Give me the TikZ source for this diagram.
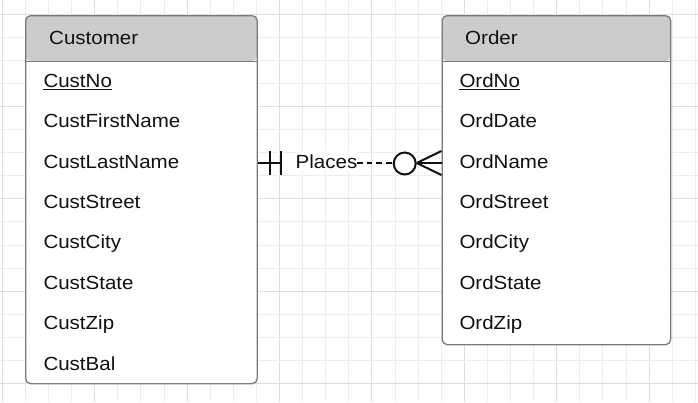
\documentclass[tikz,border=0pt]{standalone}
\usepackage{fontspec}
\setmainfont{Liberation Sans}[FakeStretch=1.08]
\definecolor{gridminor}{HTML}{EDEDED}
\definecolor{gridmajor}{HTML}{DEDEDE}
\definecolor{hdrgray}{HTML}{CCCCCC}
\definecolor{bordergray}{HTML}{7A7A7A}
\definecolor{ink}{HTML}{111111}
\tikzset{
  entity/.style={draw=bordergray, line width=1.3pt, fill=white, rounded corners=5pt,
    inner sep=0pt, anchor=north west},
  attr/.style={anchor=base west, inner sep=0pt, text=ink,
    font=\fontsize{19}{22}\selectfont},
  rel/.style={draw=ink, line width=2pt},
  reldash/.style={rel, dash pattern=on 5.7pt off 3.9pt},
  keyline/.style={draw=ink, line width=1.2pt},
}
\begin{document}
\begin{tikzpicture}[x=1pt, y=-1pt]
\useasboundingbox (0,0) rectangle (698,402);
\fill[white] (0,0) rectangle (698,402);
% grid
\foreach \i in {0,...,30} {
  \pgfmathsetmacro{\gx}{2.3+\i*23.1}
  \pgfmathtruncatemacro{\m}{mod(\i,4)}
  \ifnum\m=0
    \draw[gridmajor, line width=1pt] (\gx,0) -- (\gx,402);
  \else
    \draw[gridminor, line width=1pt] (\gx,0) -- (\gx,402);
  \fi
}
\foreach \j in {0,...,17} {
  \pgfmathsetmacro{\gy}{14.5+\j*23.05}
  \pgfmathtruncatemacro{\m}{mod(\j,4)}
  \ifnum\m=0
    \draw[gridmajor, line width=1pt] (0,\gy) -- (698,\gy);
  \else
    \draw[gridminor, line width=1pt] (0,\gy) -- (698,\gy);
  \fi
}
% entities
\node[entity, minimum width=231.5pt, minimum height=368pt,
  path picture={\fill[hdrgray] (path picture bounding box.north west) rectangle ([yshift=-45.5pt]path picture bounding box.north east);
                \draw[bordergray, line width=1.3pt] ([yshift=-45.5pt]path picture bounding box.north west) -- ([yshift=-45.5pt]path picture bounding box.north east);}]
  (cust) at (25,15) {};
\node[entity, minimum width=228.5pt, minimum height=329pt,
  path picture={\fill[hdrgray] (path picture bounding box.north west) rectangle ([yshift=-45.5pt]path picture bounding box.north east);
                \draw[bordergray, line width=1.3pt] ([yshift=-45.5pt]path picture bounding box.north west) -- ([yshift=-45.5pt]path picture bounding box.north east);}]
  (ord) at (441.5,15) {};
% headers
\node[attr] (custh) at (49,44.5) {Customer};
\node[attr] (ordh) at (465,44.5) {Order};
% customer attributes
\node[attr] (c1) at (43.3,87) {CustNo};
\node[attr] (c2) at (43.3,127.5) {CustFirstName};
\node[attr] (c3) at (43.3,168) {CustLastName};
\node[attr] (c4) at (43.3,208.5) {CustStreet};
\node[attr] (c5) at (43.3,248.5) {CustCity};
\node[attr] (c6) at (43.3,289) {CustState};
\node[attr] (c7) at (43.3,329.5) {CustZip};
\node[attr] (c8) at (43.3,370) {CustBal};
\draw[keyline] ([yshift=-2.8pt]c1.base west) -- ([yshift=-2.8pt]c1.base east);
% order attributes
\node[attr] (o1) at (459.3,87) {OrdNo};
\node[attr] (o2) at (459.3,127.5) {OrdDate};
\node[attr] (o3) at (459.3,168) {OrdName};
\node[attr] (o4) at (459.3,208.5) {OrdStreet};
\node[attr] (o5) at (459.3,248.5) {OrdCity};
\node[attr] (o6) at (459.3,289) {OrdState};
\node[attr] (o7) at (459.3,329.5) {OrdZip};
\draw[keyline] ([yshift=-2.8pt]o1.base west) -- ([yshift=-2.8pt]o1.base east);
% relationship
\coordinate (r0) at (cust.east |- 0,163);
\coordinate (r1) at (282,163);
\coordinate (r2) at (357,163);
\coordinate (r3) at (ord.west |- 0,163);
\node[attr, fill=white, inner ysep=3pt] (lbl) at (295.5,168) {Places};
\node[circle, draw=ink, line width=2pt, minimum size=22pt, inner sep=0pt] (circ) at (404.7,163.5) {};
\draw[rel] (r0) -- (r1);
\draw[rel] ([xshift=12pt]r0 |- 0,151) -- ([xshift=12pt]r0 |- 0,174.5);
\draw[rel] ([xshift=23.5pt]r0 |- 0,151) -- ([xshift=23.5pt]r0 |- 0,174.5);
\draw[reldash] (r2) -- (circ.west |- r2);
\draw[rel] (circ.east |- r3) -- (r3);
\draw[rel] (circ.east |- r3) -- ([yshift=12pt]r3);
\draw[rel] (circ.east |- r3) -- ([yshift=-12pt]r3);
\end{tikzpicture}
\end{document}
